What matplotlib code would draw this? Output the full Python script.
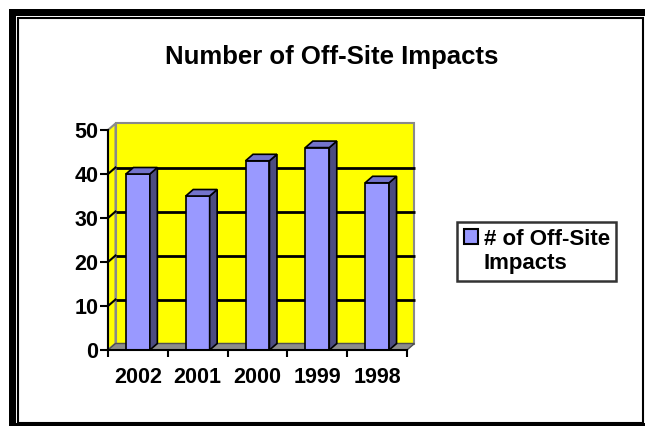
import matplotlib
matplotlib.use("Agg")
import matplotlib.pyplot as plt
from matplotlib.patches import Polygon, Rectangle
import numpy as np

categories = ["2002", "2001", "2000", "1999", "1998"]
values = [40, 35, 43, 46, 38]
yticks = [0, 10, 20, 30, 40, 50]
title = "Number of Off-Site Impacts"
series_label_lines = ["# of Off-Site", "Impacts"]

W, H = 645, 429
DPI = 100
plt.rcParams['font.family'] = ['Liberation Sans', 'DejaVu Sans']
plt.rcParams['font.weight'] = 'bold'

fig = plt.figure(figsize=(W / DPI, H / DPI), dpi=DPI)
fig.patch.set_facecolor('white')

# plot area (front plane) in pixels
x0, x1 = 108, 407
y0, y1 = 350, 130
ax = fig.add_axes([x0 / W, 1 - y0 / H, (x1 - x0) / W, (y0 - y1) / H])
n = len(categories)
ax.set_xlim(-0.5, n - 0.5)
ax.set_ylim(0, 50)
ax.set_facecolor('none')
for s in ax.spines.values():
    s.set_visible(False)

ppx = (x1 - x0) / n          # pixels per category
ppy = (y0 - y1) / 50.0       # pixels per unit
ddx = 7.5 / ppx              # depth offset in data units
ddy = 6.5 / ppy

yellow = '#FFFF00'
wall_edge = '#8a8a8a'
# back wall
ax.add_patch(Rectangle((-0.5 + ddx, ddy), n, 50, facecolor=yellow,
                       edgecolor=wall_edge, lw=1.5, zorder=1, clip_on=False))
# left wall
ax.add_patch(Polygon([(-0.5, 0), (-0.5 + ddx, ddy), (-0.5 + ddx, 50 + ddy), (-0.5, 50)],
                     closed=True, facecolor=yellow, edgecolor=wall_edge, lw=1.5,
                     zorder=1, clip_on=False))
# floor
ax.add_patch(Polygon([(-0.5, 0), (n - 0.5, 0), (n - 0.5 + ddx, ddy), (-0.5 + ddx, ddy)],
                     closed=True, facecolor='#8c8c8c', edgecolor='#505050', lw=1,
                     zorder=1.5, clip_on=False))
# gridlines
for v in yticks[1:-1]:
    ax.plot([-0.5 + ddx, n - 0.5 + ddx], [v + ddy, v + ddy], color='black', lw=2,
            zorder=1.2, clip_on=False, solid_capstyle='butt')
    ax.plot([-0.5, -0.5 + ddx], [v, v + ddy], color='black', lw=1.5,
            zorder=1.2, clip_on=False)

# bars
bw = 0.4
xs = np.arange(n)
front_c = '#9999FF'
side_c = '#4C4C80'
top_c = '#7373CC'
bars = ax.bar(xs, values, width=bw, color=front_c, edgecolor='black', lw=1.2,
              zorder=3)
for x, v in zip(xs, values):
    r = x + bw / 2
    l = x - bw / 2
    ax.add_patch(Polygon([(r, 0), (r + ddx, ddy), (r + ddx, v + ddy), (r, v)], closed=True,
                         facecolor=side_c, edgecolor='black', lw=1.2, zorder=3, clip_on=False))
    ax.add_patch(Polygon([(l, v), (r, v), (r + ddx, v + ddy), (l + ddx, v + ddy)], closed=True,
                         facecolor=top_c, edgecolor='black', lw=1.2, zorder=3, clip_on=False))

# axes lines
ax.plot([-0.5, -0.5], [0, 50], color='black', lw=1.5, zorder=4, clip_on=False)
ax.plot([-0.5, n - 0.5], [0, 0], color='black', lw=1.5, zorder=4, clip_on=False)

ax.set_yticks(yticks)
ax.set_yticklabels([str(t) for t in yticks], fontsize=15.5, fontweight='bold')
ax.tick_params(axis='y', length=6, width=1.5, pad=1, direction='out')
# category boundary ticks
ax.set_xticks(np.arange(-0.5, n, 1.0), minor=False)
ax.set_xticklabels([''] * (n + 1))
ax.tick_params(axis='x', length=5, width=1.5, direction='out')
ax.set_xticks(xs, minor=True)
ax.set_xticklabels(categories, minor=True, fontsize=15.5, fontweight='bold')
ax.tick_params(axis='x', which='minor', length=0, pad=12)

# title
fig.text(332 / W, 1 - 57 / H, title, ha='center', va='center', fontsize=18.5,
         fontweight='bold')

# legend (series label wrapped onto two lines; second line has no swatch)
blank = Rectangle((0, 0), 1, 1, facecolor='none', edgecolor='none')
leg = fig.legend(handles=[bars, blank], labels=series_label_lines, loc='upper left',
                 bbox_to_anchor=(457 / W, 1 - 222 / H), frameon=True, fancybox=False,
                 prop={'weight': 'bold', 'size': 16},
                 handlelength=0.65, handleheight=0.65, handletextpad=0.25,
                 labelspacing=0.15, borderpad=0.3, borderaxespad=0)
leg.get_frame().set_edgecolor('black')
leg.get_frame().set_linewidth(1.8)
leg.legend_handles[0].set_edgecolor('black')
leg.legend_handles[0].set_linewidth(1.5)

# outer frame decorations
def frect(x, y, w, h, **kw):
    fig.patches.append(Rectangle((x / W, 1 - (y + h) / H), w / W, h / H,
                                 transform=fig.transFigure, **kw))

frect(9, 9, 7, 417, facecolor='black', edgecolor='none')
frect(9, 9, 636, 7, facecolor='black', edgecolor='none')
frect(9, 423, 636, 3, facecolor='black', edgecolor='none')
frect(18, 18, 625, 405, facecolor='none', edgecolor='black', lw=1.5)

fig.savefig('out.png', dpi=DPI)
